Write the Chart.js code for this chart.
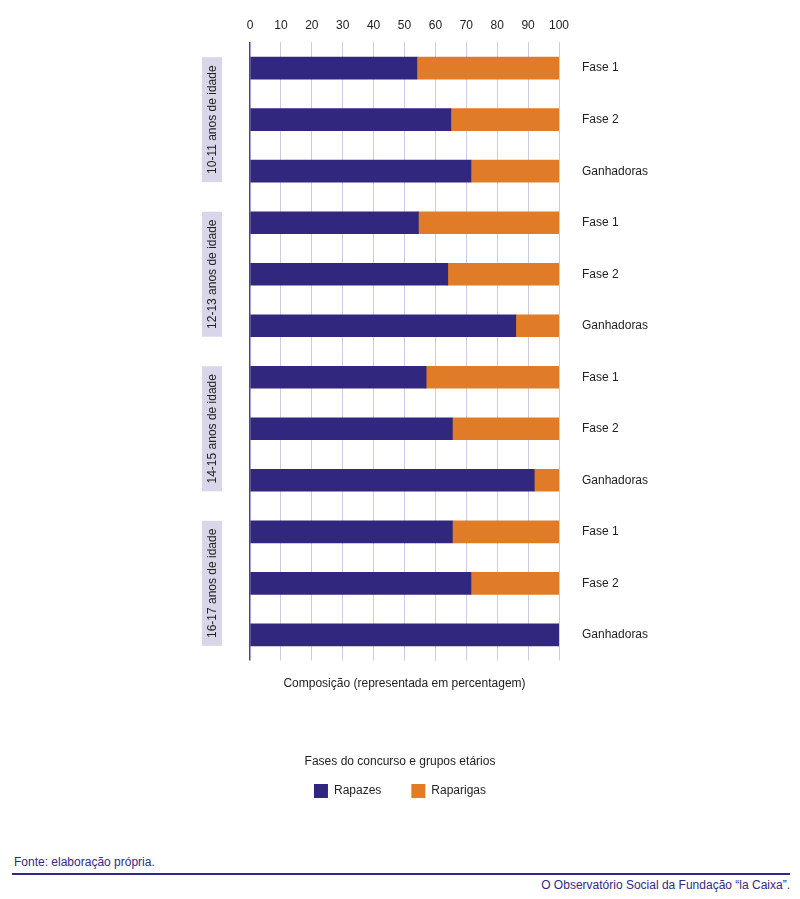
<!DOCTYPE html>
<html>
<head>
<meta charset="utf-8">
<script src="https://cdn.jsdelivr.net/npm/chart.js@4/dist/chart.umd.min.js"></script>
<style>
  body { margin: 0; background: #fff; font-family: "Liberation Sans", Arial, sans-serif; }
  #wrap { position: relative; width: 800px; height: 899px; }
  #chart { position: absolute; left: 0; top: 0; }
  .fonte { position: absolute; left: 14px; top: 855px; font-size: 12px; color: #33297f; }
  .rule { position: absolute; left: 12px; top: 873px; width: 778px; height: 2px; background: #33297f; }
  .credit { position: absolute; right: 10px; top: 878px; font-size: 12px; color: #33297f; }
</style>
</head>
<body>
<div id="wrap">
  <canvas id="chart" width="800" height="816"></canvas>
  <div class="fonte">Fonte: elaboração própria.</div>
  <div class="rule"></div>
  <div class="credit">O Observatório Social da Fundação “la Caixa”.</div>
</div>
<script>
// fases (eixo vertical) e grupos etários
const categories = ['Fase 1', 'Fase 2', 'Ganhadoras',
                    'Fase 1', 'Fase 2', 'Ganhadoras',
                    'Fase 1', 'Fase 2', 'Ganhadoras',
                    'Fase 1', 'Fase 2', 'Ganhadoras'];
const groups = ['10-11 anos de idade', '12-13 anos de idade', '14-15 anos de idade', '16-17 anos de idade'];

// composição em %
const rapazes   = [54, 65, 71.5, 54.5, 64, 86, 57, 65.5, 92, 65.5, 71.5, 100];
const raparigas = [46, 35, 28.5, 45.5, 36, 14, 43, 34.5, 8, 34.5, 28.5, 0];

const xTicks = [0, 10, 20, 30, 40, 50, 60, 70, 80, 90, 100];

const PURPLE = '#31277f';
const ORANGE = '#e07c28';
const FONT = '"Liberation Sans", Arial, sans-serif';

// caixas lilás com o grupo etário, à esquerda
const groupBoxes = {
  id: 'groupBoxes',
  afterDraw(chart) {
    const ctx = chart.ctx;
    const y = chart.scales.y;
    const left = chart.chartArea.left;
    const half = 11;
    groups.forEach((g, i) => {
      const top = y.getPixelForValue(i * 3) - half;
      const bottom = y.getPixelForValue(i * 3 + 2) + half;
      ctx.save();
      ctx.fillStyle = '#d9d6ea';
      ctx.fillRect(left - 48, top, 20, bottom - top);
      ctx.translate(left - 38, (top + bottom) / 2);
      ctx.rotate(-Math.PI / 2);
      ctx.fillStyle = '#222';
      ctx.font = '12px ' + FONT;
      ctx.textAlign = 'center';
      ctx.textBaseline = 'middle';
      ctx.fillText(g, 0, 1);
      ctx.restore();
    });
  }
};

const ctx = document.getElementById('chart').getContext('2d');
window.myChart = new Chart(ctx, {
  type: 'bar',
  data: {
    labels: categories,
    datasets: [
      { label: 'Rapazes', data: rapazes, backgroundColor: PURPLE, borderWidth: 0, barThickness: 22 },
      { label: 'Raparigas', data: raparigas, backgroundColor: ORANGE, borderWidth: 0, barThickness: 22 }
    ]
  },
  options: {
    indexAxis: 'y',
    responsive: false,
    animation: false,
    layout: { padding: { top: 8, left: 0, right: 0, bottom: 8 } },
    scales: {
      x: {
        type: 'linear',
        position: 'top',
        stacked: true,
        min: 0, max: 100,
        afterBuildTicks: s => { s.ticks = xTicks.map(v => ({ value: v })); },
        ticks: { color: '#222', font: { family: FONT, size: 12 }, padding: 10 },
        grid: {
          drawTicks: false,
          color: c => (c.tick && c.tick.value === 0) ? '#4b4296' : '#cdc9e3',
          lineWidth: c => (c.tick && c.tick.value === 0) ? 1.5 : 1
        },
        border: { display: false }
      },
      xb: {
        type: 'linear',
        position: 'bottom',
        ticks: { display: false },
        grid: { display: false },
        border: { display: false },
        title: {
          display: true,
          text: 'Composição (representada em percentagem)',
          color: '#222',
          font: { family: FONT, size: 12 },
          padding: { top: 14, bottom: 0 }
        },
        afterFit: s => { s.height = 30; }
      },
      y: {
        position: 'right',
        stacked: true,
        ticks: { color: '#222', font: { family: FONT, size: 12 }, padding: 15, crossAlign: 'near' },
        grid: { display: false },
        border: { display: false },
        afterFit: s => { s.width = 241; }
      },
      yl: {
        type: 'linear',
        position: 'left',
        display: true,
        ticks: { display: false },
        grid: { display: false },
        border: { display: false },
        afterFit: s => { s.width = 250; }
      }
    },
    plugins: {
      legend: {
        position: 'bottom',
        title: {
          display: true,
          text: 'Fases do concurso e grupos etários',
          color: '#222',
          font: { family: FONT, size: 12 },
          padding: { top: 65, bottom: -16 }
        },
        labels: {
          color: '#222',
          font: { family: FONT, size: 12 },
          boxWidth: 14,
          boxHeight: 14,
          padding: 30
        }
      },
      tooltip: { enabled: false }
    }
  },
  plugins: [groupBoxes]
});
</script>
</body>
</html>
